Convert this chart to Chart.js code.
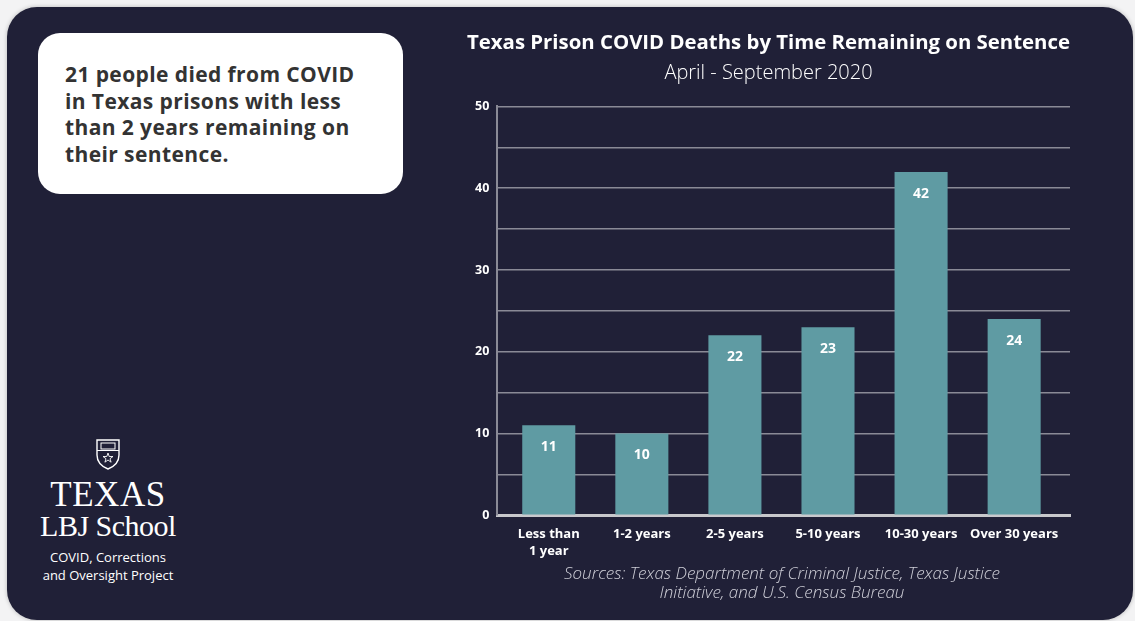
<!DOCTYPE html>
<html>
<head>
<meta charset="utf-8">
<script src="https://cdn.jsdelivr.net/npm/chart.js@4.4.0/dist/chart.umd.min.js"></script>
<style>
	html, body {
		margin: 0;
		padding: 0;
		width: 1135px;
		height: 621px;
		overflow: hidden;
		background: #f3f3f4;
		font-family: "Open Sans", "Lato", sans-serif;
	}
	.panel {
		position: absolute;
		left: 7px;
		top: 7px;
		width: 1126px;
		height: 613px;
		background: #202037;
		border-radius: 30px;
		box-shadow: 0 0 4px rgba(0, 0, 0, 0.25);
	}
	.callout {
		position: absolute;
		left: 38px;
		top: 33px;
		width: 365px;
		height: 161px;
		background: #fff;
		border-radius: 22px;
	}
	.callout p {
		margin: 0;
		position: absolute;
		left: 27px;
		top: 28px;
		white-space: nowrap;
		font-weight: 700;
		font-size: 21px;
		letter-spacing: 0.4px;
		line-height: 26.7px;
		color: #333;
	}
	.logo {
		position: absolute;
		left: 18px;
		top: 438px;
		width: 180px;
		text-align: center;
		color: #fff;
	}
	.logo .texas {
		font-family: "Liberation Serif", "DejaVu Serif", serif;
		font-size: 35px;
		line-height: 34px;
		letter-spacing: 0.5px;
		margin-top: 2px;
	}
	.logo .lbj {
		font-family: "Liberation Serif", "DejaVu Serif", serif;
		font-size: 30px;
		line-height: 28px;
		letter-spacing: -0.5px;
	}
	.logo .project {
		font-size: 13px;
		line-height: 18px;
		margin-top: 8px;
	}
	.chart-box {
		position: absolute;
		left: 430px;
		top: 22px;
		width: 704px;
		height: 541px;
	}
	.sources {
		position: absolute;
		left: 432px;
		top: 563px;
		width: 700px;
		text-align: center;
		font-style: italic;
		font-weight: 300;
		font-size: 17px;
		line-height: 19px;
		color: #cfcfd8;
	}
</style>
</head>
<body>
<div class="panel"></div>
<div class="callout">
	<p>21 people died from COVID<br>in Texas prisons with less<br>than 2 years remaining on<br>their sentence.</p>
</div>
<div class="logo">
	<svg width="26" height="33" viewBox="0 0 26 33">
		<path d="M2 2 H24 V17 C24 25 18 29 13 31 C8 29 2 25 2 17 Z" fill="none" stroke="#fff" stroke-width="1.4"/>
		<rect x="6" y="5" width="14" height="6" fill="none" stroke="#fff" stroke-width="1"/>
		<line x1="2" y1="12.5" x2="24" y2="12.5" stroke="#fff" stroke-width="1"/>
		<path d="M13 15 L14.2 18.5 L18 18.5 L15 20.7 L16.1 24.2 L13 22 L9.9 24.2 L11 20.7 L8 18.5 L11.8 18.5 Z" fill="none" stroke="#fff" stroke-width="0.9"/>
	</svg>
	<div class="texas">TEXAS</div>
	<div class="lbj">LBJ School</div>
	<div class="project">COVID, Corrections<br>and Oversight Project</div>
</div>
<div class="chart-box"><canvas id="chart-deaths"></canvas></div>
<div class="sources">Sources: Texas Department of Criminal Justice, Texas Justice<br>Initiative, and U.S. Census Bureau</div>

<script>
const CATEGORIES = [["Less than", "1 year"], "1-2 years", "2-5 years", "5-10 years", "10-30 years", "Over 30 years"];
const DEATHS = [11, 10, 22, 23, 42, 24];
const Y_TICKS = [0, 10, 20, 30, 40, 50];

const CHART_WRAPPER = document.getElementById("chart-deaths");
const BAR_COLOR = "#5f9ba3";
const GRID_COLOR = "#8a8a96";
const FONT = "Open Sans";

// Value labels inside the top of each bar
const barLabels = {
	id: "barLabels",
	afterDatasetsDraw(chart) {
		const { ctx } = chart;
		const meta = chart.getDatasetMeta(0);
		ctx.save();
		ctx.fillStyle = "#fff";
		ctx.font = `700 14px ${FONT}`;
		ctx.textAlign = "center";
		ctx.textBaseline = "middle";
		meta.data.forEach((bar, i) => {
			ctx.fillText(DEATHS[i], bar.x, bar.y + 22);
		});
		ctx.restore();
	},
};

const CHART_DATA = {
	datasets: [
		{
			data: DEATHS.map((v, i) => ({ x: i, y: v })),
			backgroundColor: BAR_COLOR,
			borderWidth: 0,
			barPercentage: 0.57,
			categoryPercentage: 1,
		},
	],
};

const CHART_CONFIG = {
	type: "bar",
	data: CHART_DATA,
	options: {
		responsive: true,
		maintainAspectRatio: false,
		animation: false,
		layout: {
			padding: {
				left: 37,
				right: 64,
			},
		},
		scales: {
			x: {
				type: "linear",
				offset: false,
				min: -0.553,
				max: 5.6,
				border: {
					display: true,
					color: "#c8c8cc",
					width: 3,
				},
				grid: {
					display: false,
				},
				afterBuildTicks: (axis) => {
					axis.ticks = CATEGORIES.map((c, i) => ({ value: i }));
				},
				ticks: {
					color: "#fff",
					font: { family: FONT, weight: "700", size: 13, lineHeight: 1.3 },
					padding: 3,
					maxRotation: 0,
					autoSkip: false,
					callback: (value) => CATEGORIES[value],
				},
			},
			y: {
				min: 0,
				max: 50,
				border: {
					display: true,
					color: GRID_COLOR,
					width: 2,
				},
				grid: {
					color: GRID_COLOR,
					lineWidth: 1.5,
					drawTicks: false,
				},
				afterBuildTicks: (axis) => {
					const ticks = [];
					for (let v = 0; v <= 50; v += 5) ticks.push({ value: v });
					axis.ticks = ticks;
				},
				ticks: {
					color: "#fff",
					font: { family: FONT, weight: "700", size: 12.5 },
					padding: 8,
					callback: (value) => (Y_TICKS.includes(value) ? value : ""),
				},
			},
		},
		plugins: {
			legend: {
				display: false,
			},
			tooltip: {
				enabled: false,
			},
			title: {
				display: true,
				text: "Texas Prison COVID Deaths by Time Remaining on Sentence",
				color: "#fff",
				font: { family: FONT, weight: "700", size: 20.4 },
				padding: { top: 9, bottom: 0 },
			},
			subtitle: {
				display: true,
				text: "April - September 2020",
				color: "#fff",
				font: { family: FONT, weight: "300", size: 20 },
				padding: { top: 6, bottom: 21 },
			},
		},
	},
	plugins: [barLabels],
};

new Chart(CHART_WRAPPER, CHART_CONFIG);
</script>
</body>
</html>
